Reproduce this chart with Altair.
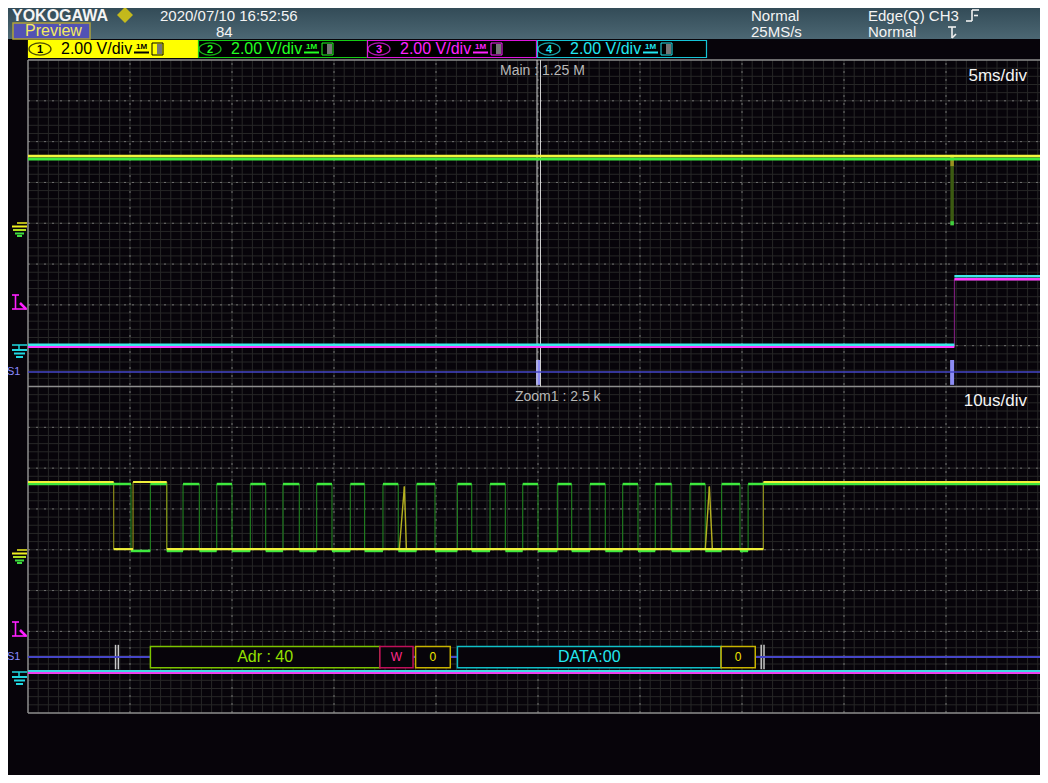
import altair as alt
import pandas as pd

# Main window (upper half), 5 ms/div, time in ms, level in V
main_span = [-25.0, 25.0]
ch1_main_level = 3.30
ch2_main_level = 3.15
ch34_step_t = 20.41
ch3_main_levels = [-0.05, 3.25]      # before / after the step
ch4_main_levels = [0.05, 3.40]
burst_main_t = 20.3
burst_main_levels = [3.35, -0.10]
trigger_t = 0.0

# Zoom1 window (lower half), 10 us/div, time in us
zoom_span = [-50.0, 50.0]
sda_edges = [-41.6, -39.7, -36.4, 22.1]
scl_edges = [-39.9, -38.0, -36.4, -34.8, -33.2, -31.5, -30.0, -28.2, -26.7,
             -25.0, -23.4, -21.7, -20.2, -18.4, -17.0, -15.2, -13.7, -11.9,
             -10.1, -7.9, -6.5, -4.7, -3.2, -1.5, 0.0, 1.9, 3.3, 5.1, 6.6,
             8.3, 9.8, 11.5, 13.1, 14.9, 16.4, 18.0, 19.8, 20.6]
sda_levels = [0.03, 3.32]            # low, high
scl_levels = [-0.06, 3.22]
sda_spike_t = [[-13.6, -13.1, -12.9], [16.4, 16.8, 17.1]]
sda_spike_v = [0.0, 3.1, 0.0]
ch3_zoom_level = -0.04
ch4_zoom_level = 0.06

# S1 serial bus (I2C) decode
dec_labels = ["Adr : 40", "W", "0", "DATA:00", "0"]
dec_start = [-38.0, -15.5, -12.0, -7.9, 17.95]
dec_end = [-15.5, -12.25, -8.6, 17.95, 21.3]
dec_frame = [-41.3, 22.0]

# header texts
ch_numbers = ["1", "2", "3", "4"]
ch_scales = ["2.00 V/div", "2.00 V/div", "2.00 V/div", "2.00 V/div"]
date_text = "2020/07/10  16:52:56"
count_text = "84"
acq_texts = ["Normal", "25MS/s"]
trig_texts = ["Edge(Q) CH3", "Normal"]
main_info = "Main : 1.25 M"
zoom_info = "Zoom1 : 2.5 k"
main_tdiv = "5ms/div"
zoom_tdiv = "10us/div"

# ===================== screen geometry =====================
W, H = 1032, 767
OX, OY = 8, 8                 # page margin
GX0, GPX = 28.0, 102.0        # grid left edge (px) and px per division
GY0, GPY = 713.0, 653.0 / 16  # grid bottom edge (px) and px per division
XS = alt.Scale(domain=[(OX - GX0) / GPX, (OX + W - GX0) / GPX], nice=False, zero=False)
YS = alt.Scale(domain=[(GY0 - OY - H) / GPY, (GY0 - OY) / GPY], nice=False, zero=False)

V_DIV, MAIN_TDIV, ZOOM_TDIV = 2.0, 5.0, 10.0
GND12, GND34 = 4.0, 1.0
S1_MAIN, S1_ZOOM = 0.355, 1.37

FONT = "Liberation Sans"
ROW1, ROW2 = 16, 32

def sx(px):
    return (px - GX0) / GPX

def sy(py):
    return (GY0 - py) / GPY

def mx(t):
    return 5 + t / MAIN_TDIV

def zx(t):
    return 5 + t / ZOOM_TDIV

def my(v, g):
    return 8 + g + v / V_DIV

def zy(v, g):
    return g + v / V_DIV

X = lambda f="x": alt.X(f + ":Q", scale=XS, axis=None)
Y = lambda f="y": alt.Y(f + ":Q", scale=YS, axis=None)


def rule_layer(rows, dash=None):
    kw = {"strokeCap": "butt"}
    if dash:
        kw["strokeDash"] = dash
    return alt.Chart(pd.DataFrame(rows)).mark_rule(**kw).encode(
        x=X(), y=Y(), x2="x2:Q", y2="y2:Q",
        color=alt.Color("c:N", scale=None),
        strokeWidth=alt.StrokeWidth("w:Q", scale=None),
    )


def rect_layer(rows):
    return alt.Chart(pd.DataFrame(rows)).mark_rect().encode(
        x=X(), y=Y(), x2="x2:Q", y2="y2:Q",
        fill=alt.Fill("f:N", scale=None),
        stroke=alt.Stroke("s:N", scale=None),
        strokeWidth=alt.StrokeWidth("w:Q", scale=None),
    )


def text_layer(rows, align="left", weight="normal"):
    return alt.Chart(pd.DataFrame(rows)).mark_text(
        align=align, baseline="middle", font=FONT, fontWeight=weight
    ).encode(
        x=X(), y=Y(), text="t:N",
        color=alt.Color("c:N", scale=None),
        size=alt.Size("s:Q", scale=None),
    )


def R(rows, x1, y1, x2, y2, c, w=1.0):
    rows.append(dict(x=x1, y=y1, x2=x2, y2=y2, c=c, w=w))


def RP(rows, px1, py1, px2, py2, c, w=1.0):
    R(rows, sx(px1), sy(py1), sx(px2), sy(py2), c, w)


def T(rows, t, px, py, c, s):
    rows.append(dict(t=t, x=sx(px), y=sy(py), c=c, s=s))


layers = []

# ---------- header background ----------
grad = alt.LinearGradient(
    gradient="linear",
    stops=[alt.GradientStop(color="#2c4450", offset=0),
           alt.GradientStop(color="#4c6773", offset=1)],
    x1=0, x2=0, y1=0, y2=1,
)
layers.append(
    alt.Chart(pd.DataFrame([dict(x=sx(0), x2=sx(1060), y=sy(0), y2=sy(39))]))
    .mark_rect(color=grad)
    .encode(x=X(), x2="x2:Q", y=Y(), y2="y2:Q")
)

# ---------- grid ----------
minor, major_base, major_dash, border = [], [], [], []
for i in range(0, 101):
    if i % 10:
        R(minor, i / 10, 0, i / 10, 16, "#272727", 1)
for j in range(0, 81):
    if j % 5:
        R(minor, 0, j / 5, 10, j / 5, "#272727", 1)
for i in range(1, 10):
    R(major_base, i, 0, i, 16, "#2c2c2c", 1)
    R(major_dash, i, 0, i, 16, "#727272", 1)
for j in range(1, 16):
    if j != 8:
        R(major_base, 0, j, 10, j, "#2c2c2c", 1)
        R(major_dash, 0, j, 10, j, "#727272", 1)
for j in (0, 8, 16):
    R(border, 0, j, 10, j, "#8e8e8e", 1.5)
R(border, 0, 0, 0, 16, "#8e8e8e", 1.5)
layers += [rule_layer(minor), rule_layer(major_base),
           rule_layer(major_dash, dash=[2, 6]), rule_layer(border)]

# ---------- channel bar + preview box ----------
ch_left = [28, 198, 367, 537]
ch_fill = ["#ffff00", "#000000", "#000000", "#000000"]
ch_stroke = ["#ffff00", "#14cc14", "#dd14dd", "#14c4d4"]
ch_text = ["#000000", "#22ff22", "#ff22ff", "#22e6f0"]
boxes = []
for k in range(4):
    L = ch_left[k]
    boxes.append(dict(x=sx(L + 0.5), x2=sx(L + 169.5), y=sy(40.5), y2=sy(57.5),
                      f=ch_fill[k], s=ch_stroke[k], w=1.2))
    boxes.append(dict(x=sx(L + 124), x2=sx(L + 135), y=sy(43), y2=sy(55),
                      f="#000000" if k else "#ffff00", s=ch_text[k], w=1))
    boxes.append(dict(x=sx(L + 129), x2=sx(L + 134), y=sy(44), y2=sy(54),
                      f="#777777", s="#777777", w=0))
boxes.append(dict(x=sx(13), x2=sx(90), y=sy(23), y2=sy(39), f="#5252b4", s="#b0a238", w=1.5))
layers.append(rect_layer(boxes))

ell_rows = [dict(x=sx(ch_left[k] + 12), y=sy(49), c=ch_text[k]) for k in range(4)]
ELLIPSE = "M -1 0 A 1 0.55 0 1 1 1 0 A 1 0.55 0 1 1 -1 0 Z"
layers.append(
    alt.Chart(pd.DataFrame(ell_rows)).mark_point(shape=ELLIPSE, filled=False, size=484, strokeWidth=1.3)
    .encode(x=X(), y=Y(), color=alt.Color("c:N", scale=None))
)
layers.append(
    alt.Chart(pd.DataFrame([dict(x=sx(125), y=sy(ROW1 - 1))])).mark_point(shape="diamond", filled=True, size=256, color="#ffe600")
    .encode(x=X(), y=Y())
)

# ---------- header icons / left-side markers ----------
deco = []
# 1M underline
for k in range(4):
    L = ch_left[k]
    RP(deco, L + 106, 52.5, L + 121, 52.5, ch_text[k], 2)
# trigger-slope icon (falling edge)
RP(deco, 972, 10, 979, 10, "#f0f0f0", 1.6)
RP(deco, 972, 10, 972, 21, "#f0f0f0", 1.6)
RP(deco, 966, 21, 972, 21, "#f0f0f0", 1.6)
RP(deco, 974, 15.5, 978, 15.5, "#f0f0f0", 1.6)
# trigger-mode icon
RP(deco, 948, 27, 956, 27, "#f0f0f0", 1.6)
RP(deco, 952, 27, 952, 38, "#f0f0f0", 1.6)
RP(deco, 952, 38, 956, 34, "#f0f0f0", 1.6)


def ground12(top):
    RP(deco, 17, top, 27, top, "#f0f020", 1.5)
    RP(deco, 12, top + 3.5, 27, top + 3.5, "#f0f020", 2)
    RP(deco, 13, top + 7, 26, top + 7, "#b0e020", 2)
    RP(deco, 15, top + 10.5, 24, top + 10.5, "#40e040", 2)
    RP(deco, 17, top + 13, 22, top + 13, "#40e040", 2)


def ground34(top):
    RP(deco, 12, top, 27, top, "#20d8e0", 1.5)
    RP(deco, 19, top, 19, top + 5, "#20d8e0", 1.5)
    RP(deco, 12, top + 5, 27, top + 5, "#20d8e0", 2)
    RP(deco, 14, top + 8.5, 25, top + 8.5, "#20d8e0", 2)
    RP(deco, 16, top + 12, 23, top + 12, "#20d8e0", 2)


def trig(top):
    RP(deco, 12, top, 19, top, "#ff20ff", 1.6)
    RP(deco, 15.5, top, 15.5, top + 14, "#ff20ff", 1.6)
    RP(deco, 12, top + 14, 27, top + 14, "#ff20ff", 1.6)
    RP(deco, 20, top + 8, 26, top + 14, "#ff20ff", 2.5)


ground12(223); ground12(550)
ground34(345); ground34(672)
trig(295); trig(622)
layers.append(rule_layer(deco))

# ---------- waveforms ----------
def square(edges, lo, hi, span, xf, yf, g):
    segs, verts = [], []
    level, prev = True, span[0]
    for e in edges + [span[1]]:
        v = hi if level else lo
        segs.append((xf(prev), xf(e), yf(v, g)))
        if e != span[1]:
            verts.append((xf(e), yf(lo, g), yf(hi, g)))
        level = not level
        prev = e
    return segs, verts


wave_lvl, wave_edge = [], []
# main window
R(wave_lvl, mx(main_span[0]), my(ch2_main_level, GND12), mx(main_span[1]), my(ch2_main_level, GND12), "#3ee83e", 3)
R(wave_lvl, mx(main_span[0]), my(ch1_main_level, GND12), mx(main_span[1]), my(ch1_main_level, GND12), "#f4f43c", 2.5)
for lv, col, w in ((ch3_main_levels, "#ff3cff", 2.5), (ch4_main_levels, "#3ce8e8", 2.5)):
    R(wave_lvl, mx(main_span[0]), my(lv[0], GND34), mx(ch34_step_t), my(lv[0], GND34), col, w)
    R(wave_lvl, mx(ch34_step_t), my(lv[1], GND34), mx(main_span[1]), my(lv[1], GND34), col, w)
R(wave_edge, mx(ch34_step_t), my(ch3_main_levels[0], GND34), mx(ch34_step_t), my(ch3_main_levels[1], GND34), "#8a208a", 1)
R(wave_edge, mx(burst_main_t), my(burst_main_levels[0], GND12), mx(burst_main_t), my(burst_main_levels[1], GND12), "#3c5a12", 3.5)
R(wave_edge, mx(burst_main_t), my(burst_main_levels[0], GND12), mx(burst_main_t), my(2.8, GND12), "#9a9020", 3.5)
R(wave_edge, mx(burst_main_t), my(0.1, GND12), mx(burst_main_t), my(burst_main_levels[1], GND12), "#40d040", 3.5)

# zoom window
scl_segs, scl_verts = square(scl_edges, scl_levels[0], scl_levels[1], zoom_span, zx, zy, GND12)
sda_segs, sda_verts = square(sda_edges, sda_levels[0], sda_levels[1], zoom_span, zx, zy, GND12)
for a, b, c in scl_verts:
    R(wave_edge, a, b, a, c, "#1f7a1f", 1.2)
for a, b, c in sda_verts:
    R(wave_edge, a, b, a, c, "#8a8a18", 1.2)
for ts in sda_spike_t:
    for i in range(2):
        R(wave_edge, zx(ts[i]), zy(sda_spike_v[i], GND12), zx(ts[i + 1]), zy(sda_spike_v[i + 1], GND12), "#b4b020", 1.4)
for a, b, y in scl_segs:
    R(wave_lvl, a, y, b, y, "#3ee83e", 2.5)
for a, b, y in sda_segs:
    R(wave_lvl, a, y, b, y, "#f0f03a", 2.2)
R(wave_lvl, zx(zoom_span[0]), zy(ch4_zoom_level, GND34), zx(zoom_span[1]), zy(ch4_zoom_level, GND34), "#40d8e0", 2)
R(wave_lvl, zx(zoom_span[0]), zy(ch3_zoom_level, GND34), zx(zoom_span[1]), zy(ch3_zoom_level, GND34), "#f040f0", 2)

# S1 bus lines, markers and trigger cursor
R(wave_lvl, mx(main_span[0]), 8 + S1_MAIN, mx(main_span[1]), 8 + S1_MAIN, "#4646c8", 1.5)
R(wave_lvl, zx(zoom_span[0]), S1_ZOOM, zx(zoom_span[1]), S1_ZOOM, "#4646c8", 2)
for t in (trigger_t, burst_main_t):
    R(wave_edge, mx(t), 8 + 0.04, mx(t), 8 + 0.65, "#8c8cf4", 4)
for d in (-1.0, 2.5):
    R(wave_edge, mx(trigger_t) + d / GPX, 8, mx(trigger_t) + d / GPX, 16, "#cfcfcf", 1)
for t in dec_frame:
    for d in (-1.2, 1.6):
        R(wave_edge, zx(t) + d / GPX, S1_ZOOM - 0.3, zx(t) + d / GPX, S1_ZOOM + 0.3, "#c8c8c8", 1.5)
layers += [rule_layer(wave_edge), rule_layer(wave_lvl)]

# ---------- decode boxes ----------
dec_stroke = ["#7cc400", "#c0105a", "#c8b400", "#10c0c8", "#c8b400"]
dec_color = ["#94e000", "#ff2a8a", "#f0e400", "#22e8f0", "#f0e400"]
dec_rows = [dict(x=zx(a), x2=zx(b), y=S1_ZOOM - 0.26, y2=S1_ZOOM + 0.26, f="#07040a", s=s, w=1.5)
            for a, b, s in zip(dec_start, dec_end, dec_stroke)]
layers.append(rect_layer(dec_rows))
dec_text = [dict(t=l, x=(zx(a) + zx(b)) / 2, y=S1_ZOOM, c=c, s=16 if len(l) > 1 else 12)
            for l, a, b, c in zip(dec_labels, dec_start, dec_end, dec_color)]
layers.append(text_layer(dec_text, align="center"))

# ---------- texts ----------
txt = []
T(txt, date_text, 160, ROW1, "#f4f4f4", 15)
T(txt, count_text, 216, ROW2, "#f4f4f4", 15)
T(txt, acq_texts[0], 751, ROW1, "#f4f4f4", 15)
T(txt, acq_texts[1], 751, ROW2, "#f4f4f4", 15)
T(txt, trig_texts[0], 868, ROW1, "#f4f4f4", 15)
T(txt, trig_texts[1], 868, ROW2, "#f4f4f4", 15)
T(txt, "Preview", 25, 31, "#f2ea60", 16)
for k in range(4):
    T(txt, ch_scales[k], ch_left[k] + 33, 49, ch_text[k], 16)
T(txt, main_info, 500, 71, "#b8b8b8", 14)
T(txt, zoom_info, 515, 397, "#b8b8b8", 14)
T(txt, "S1", 7, 372, "#8a8aff", 11)
T(txt, "S1", 7, 657, "#8a8aff", 11)
layers.append(text_layer(txt))

txt_c = []
for k in range(4):
    T(txt_c, ch_numbers[k], ch_left[k] + 12, 49.5, ch_text[k], 11)
    T(txt_c, "1M", ch_left[k] + 113.5, 46.5, ch_text[k], 8)
layers.append(text_layer(txt_c, align="center", weight="bold"))

txt_r = []
T(txt_r, main_tdiv, 1027, 76, "#f4f4f4", 17)
T(txt_r, zoom_tdiv, 1027, 401, "#f4f4f4", 17)
layers.append(text_layer(txt_r, align="right"))

txt_b = []
T(txt_b, "YOKOGAWA", 12, ROW1, "#f4f4f4", 16)
layers.append(text_layer(txt_b, weight="bold"))

chart = alt.layer(*layers).properties(
    width=W, height=H, padding=0, background="#07040a",
    autosize=alt.AutoSizeParams(type="none"),
).configure_view(stroke="transparent")

chart.save("out.html", embed_options={"renderer": "svg", "actions": False})
